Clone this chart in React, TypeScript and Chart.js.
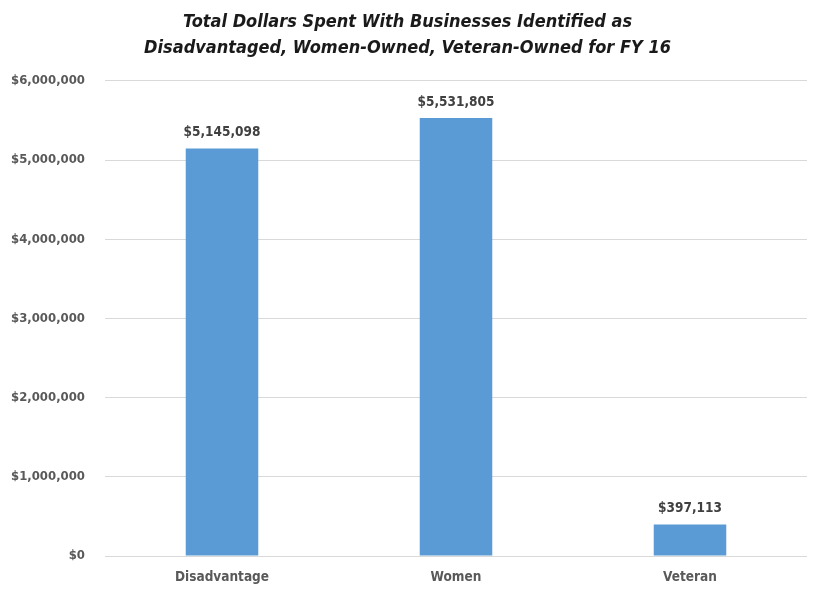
import React, { useEffect, useRef } from "react";
import { Chart, registerables } from "chart.js";

Chart.register(...registerables);

const categories = ["Disadvantage", "Women", "Veteran"];
const dollarsSpent = [5145098, 5531805, 397113];
const titleLines = [
  "Total Dollars Spent With Businesses Identified as",
  "Disadvantaged, Women-Owned, Veteran-Owned for FY 16",
];
const yMax = 6000000;
const yStep = 1000000;

const FONT = "'Liberation Sans Narrow', 'DejaVu Sans Condensed', 'Open Sans', sans-serif";

const fmt = (v: number) => "$" + Math.round(v).toLocaleString("en-US");

const dataLabelPlugin = {
  id: "dataLabels",
  afterDatasetsDraw(chart: any) {
    const ctx = chart.ctx;
    const meta = chart.getDatasetMeta(0);
    const ds = chart.data.datasets[0];
    ctx.save();
    ctx.font = `bold 13.5px ${FONT}`;
    ctx.fillStyle = "#404040";
    ctx.textAlign = "center";
    ctx.textBaseline = "bottom";
    meta.data.forEach((bar: any, i: number) => {
      ctx.fillText(fmt(ds.data[i]), bar.x, bar.y - 9);
    });
    ctx.restore();
  },
};

export default function App() {
  const ref = useRef<HTMLCanvasElement>(null);
  useEffect(() => {
    document.body.style.margin = "0";
    const chart = new Chart(ref.current!, {
      type: "bar",
      data: {
        labels: categories,
        datasets: [
          {
            data: dollarsSpent,
            backgroundColor: "#5B9BD5",
            barPercentage: 0.62,
            categoryPercentage: 0.5,
          },
        ],
      },
      options: {
        responsive: false,
        animation: false,
        layout: { padding: { left: 8, right: 13, top: 0, bottom: 0 } },
        plugins: {
          legend: { display: false },
          tooltip: { enabled: false },
          title: {
            display: true,
            text: titleLines,
            color: "#1a1a1a",
            font: { family: FONT, size: 18, weight: "bold", style: "italic", lineHeight: 1.44 },
            padding: { top: 9, bottom: 20 },
          },
        },
        scales: {
          x: {
            grid: { display: false, drawTicks: false },
            border: { display: false },
            ticks: {
              color: "#595959",
              font: { family: FONT, size: 13.5, weight: "bold" },
              padding: 13,
            },
            afterFit: (s: any) => {
              s.height = 39;
            },
          },
          y: {
            min: 0,
            max: yMax,
            grid: { color: "#D9D9D9", lineWidth: 1, drawTicks: false },
            border: { display: false },
            ticks: {
              stepSize: yStep,
              color: "#595959",
              font: { family: FONT, size: 13, weight: "bold" },
              padding: 20,
              callback: (v: any) => fmt(Number(v)),
            },
            afterFit: (s: any) => {
              s.width = 97;
            },
          },
        },
      },
      plugins: [dataLabelPlugin],
    } as any);
    return () => chart.destroy();
  }, []);
  return (
    <div style={{ width: 820, height: 595, background: "#fff" }}>
      <canvas ref={ref} width={820} height={595} />
    </div>
  );
}
